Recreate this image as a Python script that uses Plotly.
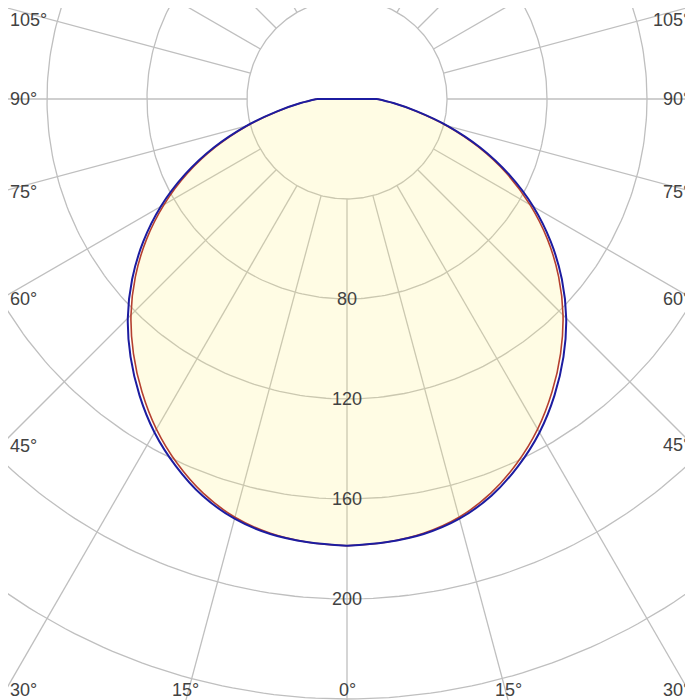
import numpy as np
import plotly.graph_objects as go

# luminous intensity (cd), 0 deg = straight down
gamma = [0, 5, 10, 15, 20, 25, 30, 35, 40, 45, 50, 55, 60, 65, 70, 75, 80, 85, 90]
blue_cd = [178.7, 178.0, 176.7, 173.8, 168.9, 162.0, 154.0, 144.7, 134.7, 124.0,
           112.2, 99.5, 86.0, 71.6, 56.7, 41.8, 28.4, 18.6, 12.0]
red_cd = [178.7, 178.0, 176.4, 173.2, 167.9, 160.8, 152.5, 143.0, 132.9, 122.2,
          110.5, 97.9, 84.5, 70.5, 55.8, 41.3, 28.1, 18.6, 12.0]

ring_values = [40, 80, 120, 160, 200, 240, 280]
ring_labels = [80, 120, 160, 200]
spoke_angles = list(range(0, 360, 15))
edge_angles = [105, 90, 75, 60, 45, 30, 15, 0]

#page has an 8px body margin, so the figure is 685x692 and the pole sits at (339, 91)
W, H = 685, 692
px = 2.5  # pixels per cd
x_left, x_right = -339 / px, (W - 339) / px
y_top, y_bottom = 91 / px, -(H - 91) / px
label_left = -347 / px  # left edge of the original view, used to place the left labels

grid_color = "#bfbfbf"
label_font = dict(family="Liberation Sans, Arial, sans-serif", size=18, color="#424242")


def half_xy(cd, side):
    g = np.radians(gamma)
    cd = np.array(cd, dtype=float)
    return list(side * cd * np.sin(g)), list(-cd * np.cos(g))


def outline(cd):
    """Closed outline: left half, pole, right half."""
    xl, yl = half_xy(cd, -1)
    xr, yr = half_xy(cd, 1)
    return xl + [0.0] + xr[::-1], yl + [0.0] + yr[::-1]


def line_path(cd):
    """Both halves smoothed separately, joined by the straight run through the pole."""
    xl, yl = half_xy(cd, -1)
    xr, yr = half_xy(cd, 1)
    xs = xl + [None] + xr + [None] + [xl[-1], 0.0, xr[-1]]
    ys = yl + [None] + yr + [None] + [yl[-1], 0.0, yr[-1]]
    return xs, ys


fig = go.Figure()

#rings
t = np.linspace(0, 2 * np.pi, 361)
rx, ry = [], []
for r in ring_values:
    rx += list(r * np.cos(t)) + [None]
    ry += list(r * np.sin(t)) + [None]
fig.add_trace(go.Scatter(x=rx, y=ry, mode="lines", hoverinfo="skip",
                         line=dict(color=grid_color, width=1.3)))

#spokes start at the first ring
sx, sy = [], []
for a in spoke_angles:
    ar = np.radians(a)
    sx += [ring_values[0] * np.sin(ar), 320 * np.sin(ar), None]
    sy += [-ring_values[0] * np.cos(ar), -320 * np.cos(ar), None]
fig.add_trace(go.Scatter(x=sx, y=sy, mode="lines", hoverinfo="skip",
                         line=dict(color=grid_color, width=1.3)))

#fill under the red curve
fx, fy = outline(red_cd)
fig.add_trace(go.Scatter(x=fx, y=fy, mode="lines", fill="toself",
                         fillcolor="rgba(255,238,120,0.2)", line=dict(width=0),
                         hoverinfo="skip"))

#the two intensity curves
for cd, color, width in [(red_cd, "#b5402e", 1.6), (blue_cd, "#1c1ca0", 2)]:
    lx, ly = line_path(cd)
    fig.add_trace(go.Scatter(x=lx, y=ly, mode="lines", connectgaps=False,
                             line=dict(color=color, width=width, shape="spline", smoothing=1.0)))

annotations = []
#intensity labels along the 0 deg spoke
for r in ring_labels:
    annotations.append(dict(x=0, y=-r, text=str(r), showarrow=False,
                            xanchor="center", yanchor="middle", font=label_font))

#angle labels where the spokes meet the window edge
y_min = y_bottom + 10 / px
y_max = y_top - 12 / px
done = set()
for a in edge_angles:
    for side in (-1, 1):
        ar = np.radians(a)
        dx, dy = side * np.sin(ar), -np.cos(ar)
        if abs(dx) < 1e-9:
            y_side = -np.inf
        else:
            x_edge = label_left if side < 0 else x_right
            y_side = x_edge / dx * dy
        if y_side < y_bottom - 2:
            x_bot = y_bottom / dy * dx
            key = ("b", round(x_bot, 3))
            ann = dict(x=x_bot, y=y_min, xanchor="center", yanchor="middle")
        elif side < 0:
            key = ("l", a)
            ann = dict(x=x_left, y=min(max(y_side, y_min), y_max),
                       xanchor="left", yanchor="middle")
        else:
            key = ("r", a)
            ann = dict(x=x_right - 1 / px, y=min(max(y_side, y_min), y_max),
                       xanchor="right", yanchor="middle")
        if key in done:
            continue
        done.add(key)
        ann.update(text=f"{a}°", showarrow=False, font=label_font)
        annotations.append(ann)

fig.update_layout(
    width=W, height=H,
    margin=dict(l=0, r=0, t=0, b=0),
    paper_bgcolor="white", plot_bgcolor="white",
    showlegend=False,
    xaxis=dict(range=[x_left, x_right], visible=False, fixedrange=True),
    yaxis=dict(range=[y_bottom, y_top], visible=False, fixedrange=True),
    annotations=annotations,
)

fig.write_html("out.html")
